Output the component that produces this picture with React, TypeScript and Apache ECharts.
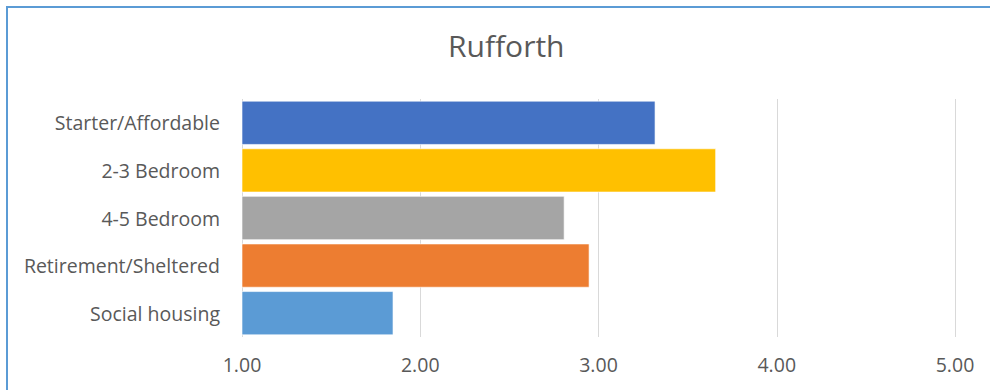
import React, { useEffect, useRef } from "react";
import * as echarts from "echarts";

const categories = ["Starter/Affordable", "2-3 Bedroom", "4-5 Bedroom", "Retirement/Sheltered", "Social housing"];
const values = [3.32, 3.66, 2.81, 2.95, 1.85];
const colors = ["#4472c4", "#ffc000", "#a5a5a5", "#ed7d31", "#5b9bd5"];
const title = "Rufforth";

export default function App() {
  const ref = useRef<HTMLDivElement>(null);
  useEffect(() => {
    if (!ref.current) return;
    const chart = echarts.init(ref.current, null, { renderer: "svg" });
    chart.setOption({
      animation: false,
      backgroundColor: "#ffffff",
      textStyle: { fontFamily: "Open Sans" },
      title: {
        text: title,
        left: 443,
        top: 25,
        textStyle: { fontFamily: "Open Sans", fontSize: 30, fontWeight: "normal", color: "#595959" },
      },
      graphic: [
        {
          type: "rect",
          shape: { x: 7, y: 7, width: 1200, height: 1000 },
          style: { fill: "none", stroke: "#5b9bd5", lineWidth: 2 },
          silent: true,
        },
      ],
      grid: { left: 242, right: 35, top: 99, bottom: 53, containLabel: false },
      xAxis: {
        type: "value",
        min: 1,
        max: 5,
        interval: 1,
        axisLine: { show: false },
        axisTick: { show: false },
        splitLine: { show: true, lineStyle: { color: "#d9d9d9", width: 1 } },
        axisLabel: {
          formatter: (v: number) => v.toFixed(2),
          color: "#595959",
          fontSize: 19.5,
          fontFamily: "Open Sans",
          margin: 17,
        },
      },
      yAxis: {
        type: "category",
        data: categories,
        inverse: true,
        axisLine: { show: false },
        axisTick: { show: false },
        axisLabel: { color: "#595959", fontSize: 19.5, fontFamily: "Open Sans", margin: 22 },
      },
      series: [
        {
          type: "bar",
          data: values.map((v, i) => ({ value: v, itemStyle: { color: colors[i] } })),
          barCategoryGap: "7%",
          itemStyle: { borderColor: "rgba(255,255,255,0.6)", borderWidth: 1 },
        },
      ],
    });
    return () => chart.dispose();
  }, []);
  return (
    <div
      ref={ref}
      style={{ position: "fixed", left: 0, top: 0, width: 990, height: 390 }}
    />
  );
}
